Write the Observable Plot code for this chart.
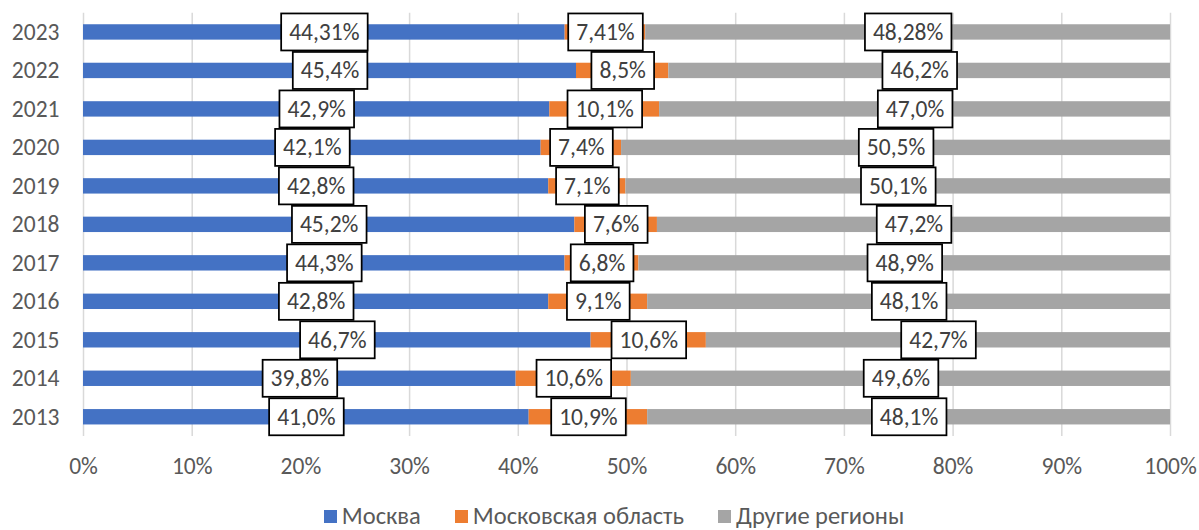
<!DOCTYPE html>
<html>
<head>
<meta charset="utf-8">
<script src="https://cdn.jsdelivr.net/npm/d3@7"></script>
<script src="https://cdn.jsdelivr.net/npm/@observablehq/plot@0.6"></script>
<style>
  html, body { margin: 0; padding: 0; background: #fff; }
  #chart { width: 1199px; height: 530px; overflow: hidden; font-family: Carlito, Calibri, Lato, sans-serif; }
  .legend { display: flex; justify-content: center; align-items: center; padding-left: 29px; height: 24px; margin-top: -1px;
            font-size: 24.5px; line-height: 24px; color: #595959; font-family: Carlito, Calibri, Lato, sans-serif; }
  .legend .item { display: flex; align-items: center; margin: 0 17px; }
  .legend .sw { width: 13px; height: 13px; margin-right: 5px; }
</style>
</head>
<body>
<div id="chart"></div>
<script>
const years = ["2013","2014","2015","2016","2017","2018","2019","2020","2021","2022","2023"];
const moscow = [41.0, 39.8, 46.7, 42.8, 44.3, 45.2, 42.8, 42.1, 42.9, 45.4, 44.31];
const oblast = [10.9, 10.6, 10.6, 9.1, 6.8, 7.6, 7.1, 7.4, 10.1, 8.5, 7.41];
const others = [48.1, 49.6, 42.7, 48.1, 48.9, 47.2, 50.1, 50.5, 47.0, 46.2, 48.28];
const decimals = [1, 1, 1, 1, 1, 1, 1, 1, 1, 1, 2];
const seriesNames = ["Москва", "Московская область", "Другие регионы"];
const seriesColors = ["#4472C4", "#ED7D31", "#A5A5A5"];
const xTicks = [0, 0.1, 0.2, 0.3, 0.4, 0.5, 0.6, 0.7, 0.8, 0.9, 1];

const seriesValues = [moscow, oblast, others];
const data = [];
seriesNames.forEach((s, si) => {
  years.forEach((y, i) => {
    const v = seriesValues[si][i];
    data.push({year: y, series: s, value: v, label: v.toFixed(decimals[i]).replace(".", ",") + "%"});
  });
});

const font = "Carlito, Calibri, Lato, sans-serif";
const fs = 23.5;
const plot = Plot.plot({
  width: 1199,
  height: 505,
  marginLeft: 83,
  marginRight: 29,
  marginTop: 12.7,
  marginBottom: 69,
  style: {fontFamily: font, fontSize: fs + "px", color: "#595959", background: "#fff"},
  x: {domain: [0, 1], ticks: xTicks},
  y: {domain: years.slice().reverse(), paddingInner: 0.6, paddingOuter: 0.3, round: false},
  color: {domain: seriesNames, range: seriesColors},
  marks: [
    Plot.gridX(xTicks, {stroke: "#d9d9d9", strokeOpacity: 1, strokeWidth: 1.5}),
    Plot.barX(data, Plot.stackX({x: "value", y: "year", fill: "series", order: seriesNames, offset: "normalize"})),
    Plot.text(data, Plot.stackX({x: "value", y: "year", z: "series", order: seriesNames, offset: "normalize",
      text: "label", fill: "#404040", fontSize: fs, lineAnchor: "middle"})),
    Plot.axisX(xTicks, {anchor: "bottom", tickSize: 0, tickPadding: 21, tickFormat: d => Math.round(d * 100) + "%", fontSize: fs, label: null}),
    Plot.axisY({anchor: "left", tickSize: 0, tickPadding: 24, fontSize: fs, label: null})
  ]
});

const chart = document.getElementById("chart");
chart.appendChild(plot);

// white boxes with black borders behind data labels
const ns = "http://www.w3.org/2000/svg";
plot.querySelectorAll('g[aria-label="text"] text').forEach(t => {
  const b = t.getBBox();
  const cy = b.y + b.height / 2;
  const r = document.createElementNS(ns, "rect");
  r.setAttribute("x", b.x - 8);
  r.setAttribute("y", cy - 18.5);
  r.setAttribute("width", b.width + 16);
  r.setAttribute("height", 37);
  r.setAttribute("fill", "#fff");
  r.setAttribute("stroke", "#000");
  r.setAttribute("stroke-width", 1.75);
  const tr = t.getAttribute("transform");
  if (tr) r.setAttribute("transform", tr);
  t.parentNode.insertBefore(r, t);
});

// legend
const legend = document.createElement("div");
legend.className = "legend";
seriesNames.forEach((s, i) => {
  const item = document.createElement("div");
  item.className = "item";
  const sw = document.createElement("div");
  sw.className = "sw";
  sw.style.background = seriesColors[i];
  const lab = document.createElement("span");
  lab.textContent = s;
  item.appendChild(sw);
  item.appendChild(lab);
  legend.appendChild(item);
});
chart.appendChild(legend);
</script>
</body>
</html>
